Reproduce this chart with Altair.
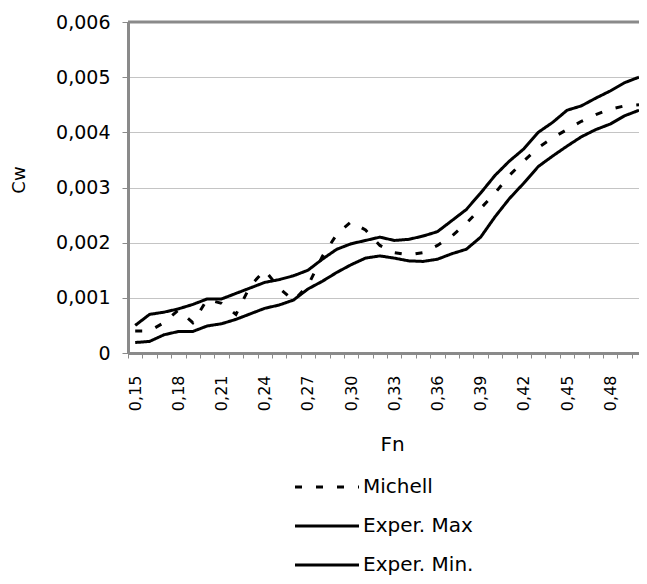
import altair as alt
import pandas as pd

fn = [0.15, 0.16, 0.17, 0.18, 0.19, 0.20, 0.21, 0.22, 0.23, 0.24, 0.25, 0.26,
      0.27, 0.28, 0.29, 0.30, 0.31, 0.32, 0.33, 0.34, 0.35, 0.36, 0.37, 0.38,
      0.39, 0.40, 0.41, 0.42, 0.43, 0.44, 0.45, 0.46, 0.47, 0.48, 0.49, 0.50]

michell = [0.00040, 0.00040, 0.00055, 0.00078, 0.00055, 0.00097, 0.00090, 0.00070,
           0.00122, 0.00150, 0.00118, 0.00095, 0.00122, 0.00175, 0.00215, 0.00238,
           0.00223, 0.00195, 0.00182, 0.00178, 0.00182, 0.00195, 0.00212, 0.00235,
           0.00262, 0.00290, 0.00322, 0.00348, 0.00372, 0.00390, 0.00405, 0.00420,
           0.00432, 0.00442, 0.00448, 0.00450]

exper_max = [0.00050, 0.00070, 0.00074, 0.00080, 0.00088, 0.00098, 0.00098, 0.00108,
             0.00118, 0.00128, 0.00133, 0.00140, 0.00150, 0.00170, 0.00188, 0.00198,
             0.00204, 0.00210, 0.00204, 0.00206, 0.00212, 0.00220, 0.00240, 0.00260,
             0.00290, 0.00322, 0.00348, 0.00370, 0.00400, 0.00418, 0.00440, 0.00448,
             0.00462, 0.00475, 0.00490, 0.00500]

exper_min = [0.00019, 0.00021, 0.00033, 0.00039, 0.00039, 0.00049, 0.00053, 0.00061,
             0.00071, 0.00081, 0.00087, 0.00096, 0.00116, 0.00130, 0.00146, 0.00160,
             0.00172, 0.00176, 0.00172, 0.00167, 0.00166, 0.00170, 0.00180, 0.00188,
             0.00210, 0.00247, 0.00280, 0.00308, 0.00338, 0.00357, 0.00375, 0.00392,
             0.00405, 0.00415, 0.00430, 0.00440]

series_names = ["Michell", "Exper. Max", "Exper. Min."]
y_ticks = [0, 0.001, 0.002, 0.003, 0.004, 0.005, 0.006]
y_title = ["Cw"]

rows = []
for name, vals in zip(series_names, [michell, exper_max, exper_min]):
    for f, v in zip(fn, vals):
        rows.append({"Fn": f, "Cw": v, "series": name})
df = pd.DataFrame(rows)

FONT = "DejaVu Sans"
GRAY = "#8a8a8a"
W, H = 511, 331
HALF_STEP = W / 35.5 / 2

lines = alt.Chart(df).mark_line(color="black", strokeWidth=3).encode(
    x=alt.X(
        "Fn:O",
        scale=alt.Scale(type="point", padding=0.25, align=1, round=False),
        axis=alt.Axis(
            title="Fn",
            labelAngle=270,
            labelExpr="round(datum.value*100) % 3 == 0 ? replace(format(datum.value, '.2f'), '.', ',') : ''",
            labelOverlap=False,
            tickOffset=-HALF_STEP,
            labelOffset=HALF_STEP,
            labelFont=FONT,
            labelFontSize=16,
            labelColor="black",
            labelPadding=17,
            tickSize=5,
            tickColor=GRAY,
            tickWidth=1,
            domainColor=GRAY,
            domainWidth=3,
            grid=False,
            titleFont=FONT,
            titleFontSize=20,
            titleFontWeight="normal",
            titleColor="black",
            titleX=264,
            titleY=91,
            titleBaseline="middle",
            titleAlign="center",
        ),
    ),
    y=alt.Y(
        "Cw:Q",
        scale=alt.Scale(domain=[0, 0.006], nice=False),
        axis=alt.Axis(
            title=None,
            values=y_ticks,
            labelExpr="datum.value == 0 ? '0' : replace(format(datum.value, '.3f'), '.', ',')",
            labelFont=FONT,
            labelFontSize=19,
            labelColor="black",
            labelPadding=12,
            tickSize=6,
            tickColor=GRAY,
            tickWidth=1,
            domainColor=GRAY,
            domainWidth=3,
            gridColor="#c4c4c4",
            gridWidth=1,
        ),
    ),
    strokeDash=alt.StrokeDash(
        "series:N",
        scale=alt.Scale(domain=series_names, range=[[7, 14], [1, 0], [1, 0]]),
        legend=alt.Legend(
            title=None,
            orient="none",
            legendX=189,
            legendY=455,
            direction="vertical",
            symbolType="M-4,0H4",
            symbolSize=256,
            symbolStrokeWidth=3,
            symbolStrokeColor="black",
            labelFont=FONT,
            labelFontSize=20,
            labelColor="black",
            labelOffset=26,
            rowPadding=19,
            padding=0,
            labelLimit=0,
        ),
    ),
)

top_border = alt.Chart(pd.DataFrame({"Cw": [y_ticks[-1]]})).mark_rule(
    color=GRAY, strokeWidth=3
).encode(y=alt.Y("Cw:Q"))

y_title_mark = alt.Chart(pd.DataFrame({"t": y_title})).mark_text(
    angle=270, font=FONT, fontSize=18, color="black", align="center", baseline="middle"
).encode(text="t:N", x=alt.value(-108), y=alt.value(158))

chart = alt.layer(lines, top_border, y_title_mark).properties(
    width=W,
    height=H,
    autosize=alt.AutoSizeParams(type="none"),
    padding={"left": 120, "top": 14, "right": 0, "bottom": 223},
    background="white",
).configure_view(stroke=None)

chart.save("out.html", embed_options={"renderer": "svg", "actions": False})
